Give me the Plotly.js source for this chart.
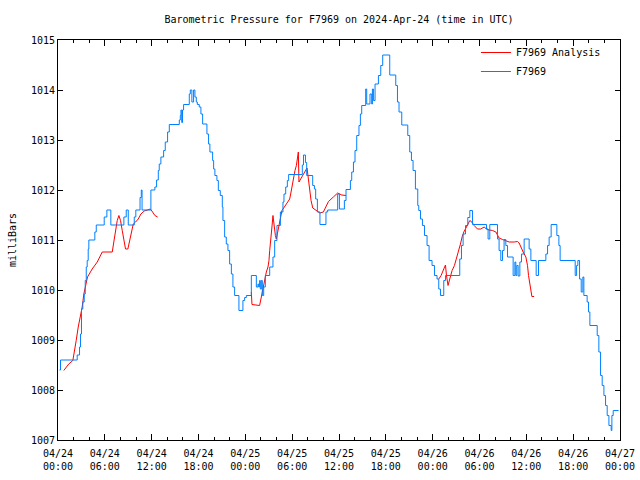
<!DOCTYPE html>
<html>
<head>
<meta charset="utf-8">
<script src="https://cdn.plot.ly/plotly-3.0.1.min.js"></script>
<style>html,body{margin:0;padding:0;background:#fff;}#chart{width:640px;height:480px;}</style>
</head>
<body>
<div id="chart"></div>
<script>
// Hours since 2024-04-24 00:00 UTC
const stationHours = [0.19,0.32,2.46,2.76,2.88,3.01,3.18,3.36,3.49,3.62,3.74,3.87,3.95,4.72,4.90,5.92,6.26,6.77,8.44,8.74,9.00,9.77,9.97,10.51,10.67,10.77,11.90,12.41,12.63,12.85,12.97,13.18,13.53,13.74,14.04,14.26,15.54,15.67,15.75,15.85,15.95,16.09,16.82,16.95,17.15,17.37,17.54,17.72,17.85,18.10,18.31,18.53,19.08,19.29,19.46,19.81,19.94,20.10,20.36,20.54,20.79,21.05,21.13,21.35,21.56,21.77,21.99,22.21,22.41,22.63,23.18,23.69,23.91,24.13,24.77,25.41,25.62,25.71,25.83,25.92,26.05,26.18,26.35,26.56,27.12,27.54,27.76,28.05,28.49,28.82,28.95,29.17,29.38,29.55,31.30,31.45,31.70,31.86,32.63,32.85,33.01,33.23,33.56,34.33,34.55,35.83,36.05,36.69,36.90,37.46,37.63,37.85,38.05,38.27,38.56,38.74,38.91,39.42,39.55,39.97,40.19,40.28,40.41,40.62,41.05,41.35,41.60,42.50,43.27,43.49,43.69,44.04,44.81,45.06,45.28,45.49,45.79,46.09,46.22,46.44,46.69,46.95,47.28,47.54,47.92,48.23,48.56,48.78,49.00,49.42,49.64,51.47,51.69,51.90,52.21,52.50,52.76,53.10,54.90,55.10,55.32,56.31,56.51,56.73,56.95,57.15,57.37,57.59,58.31,58.53,58.65,58.78,58.95,59.17,59.38,59.72,60.36,60.58,61.26,61.56,62.50,62.72,62.92,63.18,63.91,64.17,64.33,66.26,66.44,66.60,66.82,67.03,67.24,67.37,67.79,67.97,68.14,69.08,69.29,69.51,69.72,69.94,70.15,70.36,70.58,70.87,70.96,71.13,71.82];
const stationPressure = [1008.4,1008.6,1008.7,1008.86,1009.12,1009.62,1009.76,1009.92,1010.19,1010.46,1010.59,1010.82,1011.0,1011.16,1011.3,1011.46,1011.6,1011.3,1011.46,1011.6,1011.3,1011.46,1011.6,1011.85,1012.0,1011.6,1012.0,1012.06,1012.2,1012.39,1012.52,1012.66,1012.79,1012.96,1013.16,1013.31,1013.4,1013.49,1013.6,1013.35,1013.6,1013.71,1013.92,1014.0,1013.76,1014.0,1013.86,1013.76,1013.71,1013.66,1013.52,1013.32,1013.12,1012.92,1012.76,1012.59,1012.42,1012.29,1012.19,1011.99,1011.89,1011.66,1011.39,1011.06,1010.92,1010.79,1010.52,1010.32,1010.06,1009.89,1009.59,1009.79,1009.85,1009.89,1010.29,1010.06,1010.12,1010.06,1010.19,1010.02,1010.19,1009.89,1010.06,1010.29,1010.46,1010.66,1010.99,1011.29,1011.56,1011.76,1011.92,1012.06,1012.19,1012.31,1012.5,1012.7,1012.55,1012.29,1012.09,1012.02,1011.82,1011.56,1011.31,1011.56,1011.6,1011.92,1011.62,1011.79,1012.01,1012.19,1012.36,1012.56,1012.79,1013.09,1013.29,1013.52,1013.69,1014.02,1013.72,1013.92,1013.72,1014.02,1013.79,1014.12,1014.29,1014.49,1014.7,1014.3,1014.09,1013.76,1013.56,1013.3,1013.09,1012.76,1012.59,1012.39,1012.02,1011.69,1011.59,1011.42,1011.29,1011.09,1010.89,1010.59,1010.49,1010.29,1010.22,1010.02,1009.89,1010.19,1010.29,1010.62,1010.89,1011.12,1011.29,1011.45,1011.59,1011.31,1011.22,1011.02,1011.31,1011.02,1010.79,1010.59,1010.79,1011.01,1010.89,1010.66,1010.29,1010.56,1010.29,1010.49,1010.28,1010.56,1010.72,1011.02,1010.82,1010.59,1010.29,1010.59,1010.72,1010.89,1011.06,1011.31,1011.09,1010.89,1010.59,1010.29,1010.49,1010.59,1010.22,1009.96,1010.26,1009.89,1009.76,1009.56,1009.29,1009.09,1008.76,1008.29,1008.09,1007.89,1007.69,1007.49,1007.29,1007.19,1007.49,1007.59,1007.59];

const analysisHours = [0.74,1.38,1.90,2.15,2.33,2.59,2.88,3.10,3.31,3.62,3.78,4.38,5.03,5.67,6.31,6.95,7.15,7.37,7.59,7.80,8.01,8.23,8.44,8.65,8.95,9.17,9.38,9.64,9.94,10.28,10.62,11.05,11.47,11.82,12.12,12.41,12.76,18.0,
 24.77,24.85,25.83,26.05,26.26,26.47,26.69,26.90,27.03,27.12,27.24,27.41,27.54,27.67,27.85,27.97,28.10,28.27,28.53,28.69,29.26,29.68,29.81,30.03,30.19,30.36,30.54,30.67,30.79,30.87,31.09,31.38,31.73,31.90,32.08,32.26,32.42,32.64,33.15,33.56,34.00,34.65,35.28,35.83,36.35,36.90,42.0,
 48.78,49.08,49.42,49.64,49.77,49.97,50.19,50.49,50.79,51.05,51.35,51.56,51.77,51.99,52.33,52.67,52.76,53.02,53.31,53.74,54.17,54.59,54.90,55.23,55.67,56.10,56.31,56.51,56.95,57.37,57.80,58.44,58.87,59.08,59.29,59.59,59.94,60.15,60.28,60.45,60.58,60.71,61.00];
const analysisPressure = [1008.39,1008.52,1008.59,1008.79,1008.99,1009.26,1009.46,1009.66,1009.92,1010.19,1010.26,1010.42,1010.56,1010.76,1010.76,1010.76,1010.96,1011.19,1011.39,1011.49,1011.39,1011.19,1010.99,1010.82,1010.82,1010.99,1011.16,1011.32,1011.36,1011.42,1011.52,1011.58,1011.6,1011.62,1011.56,1011.49,1011.46,null,
 1009.96,1009.71,1009.69,1009.86,1010.06,1010.19,1010.36,1010.46,1010.59,1010.79,1011.06,1011.26,1011.49,1011.26,1011.09,1011.02,1011.12,1011.29,1011.49,1011.59,1011.72,1011.82,1011.92,1012.12,1012.29,1012.39,1012.49,1012.66,1012.76,1012.16,1012.22,1012.32,1012.39,1012.44,1012.22,1011.96,1011.79,1011.64,1011.59,1011.54,1011.56,1011.77,1011.86,1011.94,1011.9,1011.89,null,
 1010.22,1010.29,1010.42,1010.5,1010.29,1010.09,1010.22,1010.39,1010.49,1010.62,1010.82,1010.92,1011.06,1011.16,1011.26,1011.36,1011.39,1011.36,1011.29,1011.22,1011.22,1011.26,1011.22,1011.2,1011.19,1011.16,1011.09,1011.04,1011.01,1010.99,1010.96,1010.96,1010.97,1010.94,1010.86,1010.76,1010.66,1010.49,1010.29,1010.09,1009.92,1009.87,1009.87];

const seriesNames = ['F7969 Analysis', 'F7969'];
const titleText = 'Barometric Pressure for F7969 on 2024-Apr-24 (time in UTC)';
const yTitle = 'milliBars';

const t0 = Date.UTC(2024, 3, 24);
function toDate(h) {
  const d = new Date(t0 + Math.round(h * 3600000));
  return d.toISOString().slice(0, 19).replace('T', ' ');
}

const mono = 'DejaVu Sans Mono, monospace';

const traces = [
  {
    x: analysisHours.map(toDate), y: analysisPressure, name: seriesNames[0],
    type: 'scatter', mode: 'lines', connectgaps: false,
    line: {color: '#ff0000', width: 1}
  },
  {
    x: stationHours.map(toDate), y: stationPressure, name: seriesNames[1],
    type: 'scatter', mode: 'lines',
    line: {color: '#0080ff', width: 1, shape: 'hv'}
  }
];

const layout = {
  width: 640, height: 480,
  margin: {l: 58, r: 20, t: 40, b: 40},
  paper_bgcolor: '#ffffff', plot_bgcolor: '#ffffff',
  font: {family: mono, size: 10, color: '#000'},
  title: {text: titleText, x: 0.5, xref: 'paper', xanchor: 'center', y: 1 - 19/480, yanchor: 'middle', yref: 'container',
          font: {family: mono, size: 10, color: '#000'}},
  showlegend: true,
  legend: {x: 0.975, xanchor: 'right', y: 1.005, yanchor: 'top', bgcolor: 'rgba(0,0,0,0)',
           font: {family: mono, size: 10}, tracegroupgap: 0, itemwidth: 30},
  xaxis: {
    type: 'date',
    range: [toDate(0), toDate(72)],
    dtick: 6 * 3600000, tick0: toDate(0),
    tickformat: '%m/%d<br>%H:%M',
    ticks: 'inside', ticklen: 6, tickcolor: '#000', tickwidth: 1,
    ticklabelstandoff: 4,
    minor: {dtick: 2 * 3600000, ticks: 'inside', ticklen: 3, tickcolor: '#000', showgrid: false},
    showline: true, linecolor: '#000', linewidth: 1, mirror: 'allticks',
    showgrid: false, zeroline: false,
    tickfont: {family: mono, size: 10, color: '#000'}
  },
  yaxis: {
    range: [1007, 1015], dtick: 1, tick0: 1007,
    ticks: 'inside', ticklen: 5, tickcolor: '#000', tickwidth: 1,
    showline: true, linecolor: '#000', linewidth: 1, mirror: 'allticks',
    showgrid: false, zeroline: false,
    tickfont: {family: mono, size: 10, color: '#000'},
    title: {text: yTitle, font: {family: mono, size: 10, color: '#000'}, standoff: 12}
  }
};

Plotly.newPlot('chart', traces, layout, {displayModeBar: false, staticPlot: true});
</script>
</body>
</html>
